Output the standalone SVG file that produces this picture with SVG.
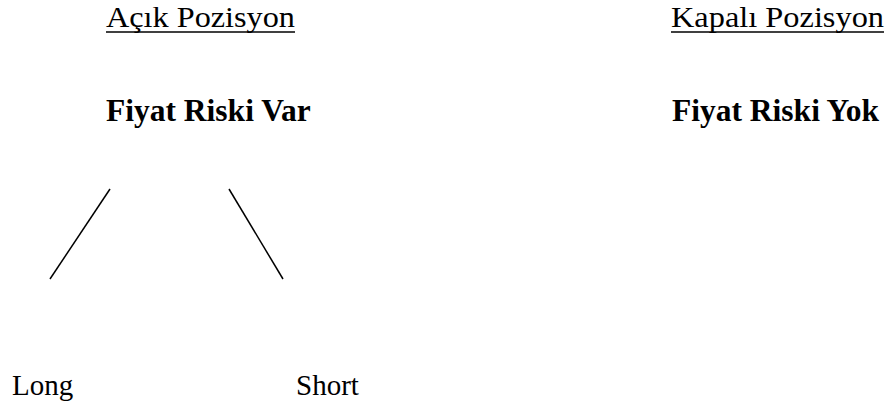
<svg xmlns="http://www.w3.org/2000/svg" width="892" height="406" viewBox="0 0 892 406">
<style>
text{font-family:"Liberation Serif","Times New Roman",serif;fill:#000}
.h{font-size:29.5px}
.b{font-size:31.5px;font-weight:bold}
.l{font-size:29px}
.c{stroke:#000;stroke-width:1.5;fill:none}
</style>
<rect width="892" height="406" fill="#fff"/>
<g id="acik"><text class="h" x="106" y="26.5" textLength="189" lengthAdjust="spacingAndGlyphs">Açık Pozisyon</text><line class="c" x1="106" y1="32" x2="295" y2="32"/></g>
<g id="kapali"><text class="h" x="671" y="26.5" textLength="213" lengthAdjust="spacingAndGlyphs">Kapalı Pozisyon</text><line class="c" x1="671" y1="32" x2="884" y2="32"/></g>
<g id="var"><text class="b" x="106" y="121">Fiyat Riski Var</text></g>
<g id="yok"><text class="b" x="672" y="121">Fiyat Riski Yok</text></g>
<g id="long"><text class="l" x="12" y="395">Long</text></g>
<g id="short"><text class="l" x="296" y="395">Short</text></g>
<g id="connectors"><line class="c" x1="110" y1="189" x2="50" y2="279"/><line class="c" x1="229" y1="189" x2="283" y2="279"/></g>
</svg>
